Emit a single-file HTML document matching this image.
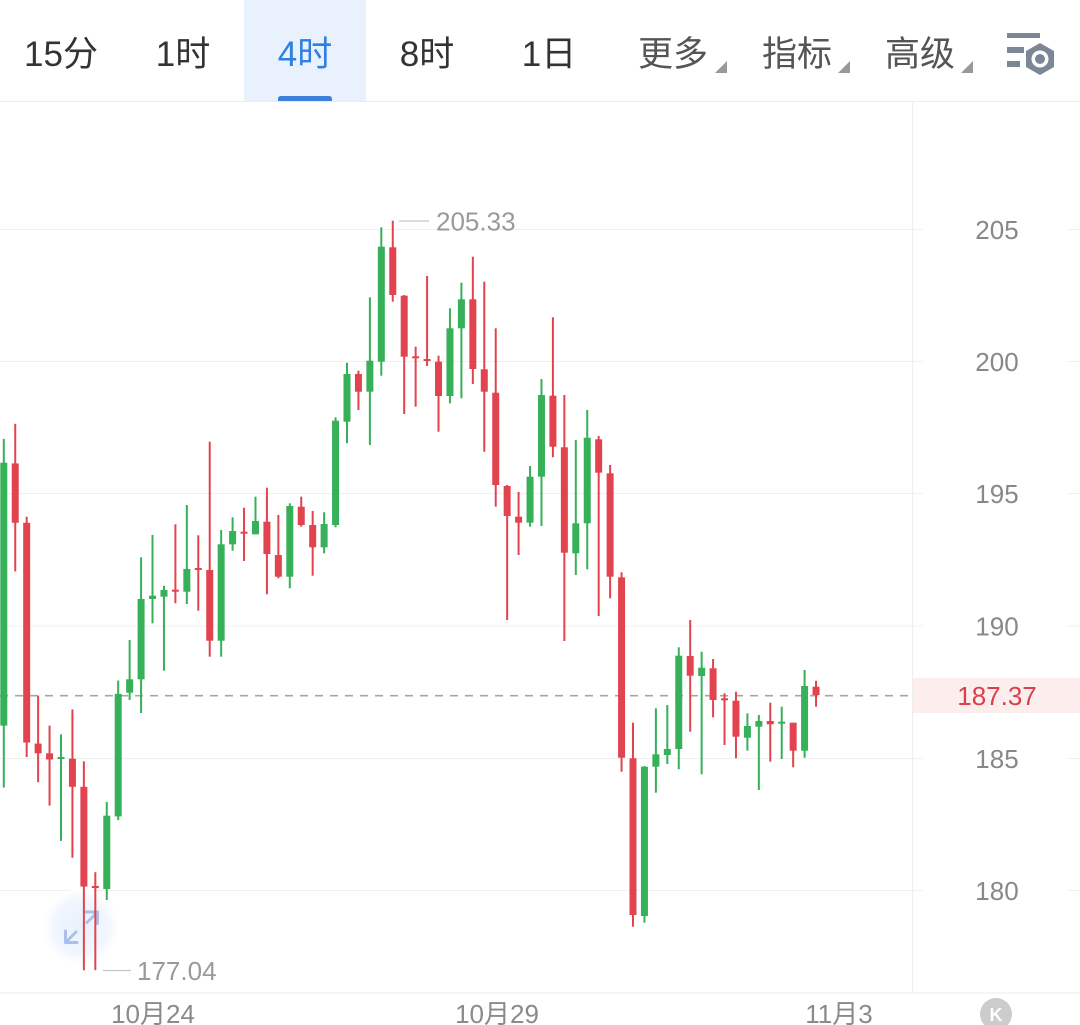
<!DOCTYPE html>
<html><head><meta charset="utf-8"><style>
html,body{margin:0;padding:0;background:#fff;width:1080px;height:1025px;overflow:hidden}
svg{display:block}
text{font-family:"Liberation Sans","Noto Sans CJK SC",sans-serif}
.g rect{fill:#37b05a}.r rect{fill:#e2444f}
</style></head><body>
<svg width="1080" height="1025" viewBox="0 0 1080 1025" xmlns="http://www.w3.org/2000/svg">
<rect width="1080" height="1025" fill="#fff"/>
<!-- header -->
<rect x="244" y="0" width="122" height="101" fill="#e8f1fc"/>
<path d="M278,101 L278,99 Q278,96 281,96 L329,96 Q332,96 332,99 L332,101 Z" fill="#3d7fdc"/>
<g font-size="35" text-anchor="middle">
<text x="61" y="66" fill="#333">15分</text>
<text x="183" y="66" fill="#333">1时</text>
<text x="305" y="66" fill="#2e7fe0">4时</text>
<text x="427" y="66" fill="#333">8时</text>
<text x="549" y="66" fill="#333">1日</text>
<text x="673" y="66" fill="#555">更多</text>
<text x="797" y="66" fill="#555">指标</text>
<text x="920" y="66" fill="#555">高级</text>
</g>
<polygon points="727,61 727,73 715,73" fill="#999"/>
<polygon points="850,61 850,73 838,73" fill="#999"/>
<polygon points="973,61 973,73 961,73" fill="#999"/>
<g fill="#7b8794">
<rect x="1007" y="33" width="33" height="5"/>
<rect x="1007" y="47" width="17" height="6"/>
<rect x="1007" y="61" width="13" height="6"/>
<polygon points="1040,43 1054,51 1054,67 1040,75 1026,67 1026,51"/>
</g>
<circle cx="1040" cy="59" r="8.5" fill="#fff"/>
<circle cx="1040" cy="59" r="5" fill="#7b8794"/>
<line x1="0" y1="101.5" x2="1080" y2="101.5" stroke="#ececec" stroke-width="1"/>
<!-- grid -->
<g stroke="#f0f0f0" stroke-width="1">
<line x1="0" y1="229.5" x2="1080" y2="229.5"/>
<line x1="0" y1="361.5" x2="1080" y2="361.5"/>
<line x1="0" y1="493.5" x2="1080" y2="493.5"/>
<line x1="0" y1="626" x2="1080" y2="626"/>
<line x1="0" y1="758.5" x2="1080" y2="758.5"/>
<line x1="0" y1="890.5" x2="1080" y2="890.5"/>
</g>
<line x1="912.5" y1="102" x2="912.5" y2="993" stroke="#eeeeee" stroke-width="1"/>
<line x1="0" y1="993" x2="1080" y2="993" stroke="#eeeeee" stroke-width="1"/>
<!-- axis label backgrounds -->
<g fill="#fff">
<rect x="923" y="212" width="145" height="36"/>
<rect x="923" y="344" width="145" height="36"/>
<rect x="923" y="476" width="145" height="36"/>
<rect x="923" y="608" width="145" height="36"/>
<rect x="923" y="741" width="145" height="36"/>
<rect x="923" y="873" width="145" height="36"/>
</g>
<g font-size="26" fill="#888" text-anchor="middle">
<text x="997" y="239">205</text>
<text x="997" y="371">200</text>
<text x="997" y="503">195</text>
<text x="997" y="635.5">190</text>
<text x="997" y="768">185</text>
<text x="997" y="900">180</text>
</g>
<!-- current price -->
<line x1="0" y1="695.7" x2="910" y2="695.7" stroke="#a6a6a6" stroke-width="1.6" stroke-dasharray="8,7"/>
<rect x="913" y="678" width="167" height="35" fill="#fdeeee"/>
<text x="997" y="705" font-size="26" fill="#d8404c" text-anchor="middle">187.37</text>
<!-- zoom icon -->
<defs><radialGradient id="zg"><stop offset="0" stop-color="#e9f1fc"/><stop offset="0.7" stop-color="#f1f6fd"/><stop offset="1" stop-color="#ffffff"/></radialGradient></defs>
<circle cx="81" cy="927" r="38" fill="url(#zg)"/>
<g stroke="#a9c1ea" stroke-width="3" fill="none" stroke-linecap="round" stroke-linejoin="round">
<polyline points="65.5,931 65.5,942.5 77,942.5"/>
<line x1="65.5" y1="942.5" x2="76" y2="932"/>
<polyline points="86,912 97.5,912 97.5,923.5"/>
<line x1="97.5" y1="912" x2="87" y2="922.5"/>
</g>
<!-- candles -->
<g transform="translate(3.8)" class="g"><rect x="-1" y="438.9" width="2" height="348.7"/><rect x="-3.5" y="462.7" width="7" height="262.9"/></g>
<g transform="translate(15.24)" class="r"><rect x="-1" y="423.8" width="2" height="147.6"/><rect x="-3.5" y="463.4" width="7" height="59.4"/></g>
<g transform="translate(26.68)" class="r"><rect x="-1" y="516.7" width="2" height="240.3"/><rect x="-3.5" y="522.8" width="7" height="219.7"/></g>
<g transform="translate(38.12)" class="r"><rect x="-1" y="695.7" width="2" height="86.5"/><rect x="-3.5" y="743.6" width="7" height="9.7"/></g>
<g transform="translate(49.56)" class="r"><rect x="-1" y="725.6" width="2" height="80"/><rect x="-3.5" y="753.3" width="7" height="6.2"/></g>
<g transform="translate(61)" class="g"><rect x="-1" y="734.3" width="2" height="106.6"/><rect x="-3.5" y="757" width="7" height="2"/></g>
<g transform="translate(72.44)" class="r"><rect x="-1" y="709.4" width="2" height="148.4"/><rect x="-3.5" y="758.7" width="7" height="28.1"/></g>
<g transform="translate(83.88)" class="r"><rect x="-1" y="761.3" width="2" height="209"/><rect x="-3.5" y="786.8" width="7" height="99.8"/></g>
<g transform="translate(95.32)" class="r"><rect x="-1" y="872.2" width="2" height="98"/><rect x="-3.5" y="886" width="7" height="2"/></g>
<g transform="translate(106.76)" class="g"><rect x="-1" y="802" width="2" height="98"/><rect x="-3.5" y="815.7" width="7" height="73.4"/></g>
<g transform="translate(118.2)" class="g"><rect x="-1" y="680.6" width="2" height="139.4"/><rect x="-3.5" y="693.9" width="7" height="122.5"/></g>
<g transform="translate(129.64)" class="g"><rect x="-1" y="640" width="2" height="60"/><rect x="-3.5" y="679.3" width="7" height="13.4"/></g>
<g transform="translate(141.08)" class="g"><rect x="-1" y="557.3" width="2" height="155.7"/><rect x="-3.5" y="599" width="7" height="80.3"/></g>
<g transform="translate(152.52)" class="g"><rect x="-1" y="535" width="2" height="88.3"/><rect x="-3.5" y="595.7" width="7" height="3.3"/></g>
<g transform="translate(163.96)" class="g"><rect x="-1" y="585.7" width="2" height="85"/><rect x="-3.5" y="590" width="7" height="6.7"/></g>
<g transform="translate(175.4)" class="r"><rect x="-1" y="524.3" width="2" height="79"/><rect x="-3.5" y="589.7" width="7" height="2"/></g>
<g transform="translate(186.84)" class="g"><rect x="-1" y="505" width="2" height="99"/><rect x="-3.5" y="569" width="7" height="22.7"/></g>
<g transform="translate(198.28)" class="r"><rect x="-1" y="535.3" width="2" height="75.4"/><rect x="-3.5" y="568" width="7" height="2"/></g>
<g transform="translate(209.72)" class="r"><rect x="-1" y="441.7" width="2" height="215"/><rect x="-3.5" y="570" width="7" height="70.7"/></g>
<g transform="translate(221.16)" class="g"><rect x="-1" y="530" width="2" height="126.7"/><rect x="-3.5" y="544.3" width="7" height="96.4"/></g>
<g transform="translate(232.6)" class="g"><rect x="-1" y="517.3" width="2" height="33.4"/><rect x="-3.5" y="531" width="7" height="13.3"/></g>
<g transform="translate(244.04)" class="r"><rect x="-1" y="507.7" width="2" height="53.3"/><rect x="-3.5" y="531.7" width="7" height="2"/></g>
<g transform="translate(255.48)" class="g"><rect x="-1" y="496.7" width="2" height="37.6"/><rect x="-3.5" y="521" width="7" height="13.3"/></g>
<g transform="translate(266.92)" class="r"><rect x="-1" y="487.7" width="2" height="106.6"/><rect x="-3.5" y="521.7" width="7" height="32.3"/></g>
<g transform="translate(278.36)" class="r"><rect x="-1" y="515" width="2" height="63.3"/><rect x="-3.5" y="555" width="7" height="21.7"/></g>
<g transform="translate(289.8)" class="g"><rect x="-1" y="503.3" width="2" height="85"/><rect x="-3.5" y="506" width="7" height="70.7"/></g>
<g transform="translate(301.24)" class="r"><rect x="-1" y="496.7" width="2" height="30"/><rect x="-3.5" y="506.7" width="7" height="18.3"/></g>
<g transform="translate(312.68)" class="r"><rect x="-1" y="511" width="2" height="64.7"/><rect x="-3.5" y="525" width="7" height="22.3"/></g>
<g transform="translate(324.12)" class="g"><rect x="-1" y="512.3" width="2" height="41"/><rect x="-3.5" y="524" width="7" height="23.3"/></g>
<g transform="translate(335.56)" class="g"><rect x="-1" y="417.3" width="2" height="110"/><rect x="-3.5" y="420.7" width="7" height="104.3"/></g>
<g transform="translate(347)" class="g"><rect x="-1" y="362.7" width="2" height="80.6"/><rect x="-3.5" y="374" width="7" height="47.7"/></g>
<g transform="translate(358.44)" class="r"><rect x="-1" y="370.7" width="2" height="39.3"/><rect x="-3.5" y="374" width="7" height="17.7"/></g>
<g transform="translate(369.88)" class="g"><rect x="-1" y="297.3" width="2" height="147.7"/><rect x="-3.5" y="360.7" width="7" height="31"/></g>
<g transform="translate(381.32)" class="g"><rect x="-1" y="227.3" width="2" height="148.4"/><rect x="-3.5" y="246.7" width="7" height="115"/></g>
<g transform="translate(392.76)" class="r"><rect x="-1" y="220.7" width="2" height="81"/><rect x="-3.5" y="247.3" width="7" height="47.7"/></g>
<g transform="translate(404.2)" class="r"><rect x="-1" y="295" width="2" height="119"/><rect x="-3.5" y="295.7" width="7" height="61"/></g>
<g transform="translate(415.64)" class="r"><rect x="-1" y="346.7" width="2" height="60"/><rect x="-3.5" y="356.3" width="7" height="2"/></g>
<g transform="translate(427.08)" class="r"><rect x="-1" y="276" width="2" height="90"/><rect x="-3.5" y="359" width="7" height="2"/></g>
<g transform="translate(438.52)" class="r"><rect x="-1" y="355.7" width="2" height="76"/><rect x="-3.5" y="361.7" width="7" height="34.3"/></g>
<g transform="translate(449.96)" class="g"><rect x="-1" y="308.3" width="2" height="95"/><rect x="-3.5" y="328.3" width="7" height="67.7"/></g>
<g transform="translate(461.4)" class="g"><rect x="-1" y="282.7" width="2" height="115.6"/><rect x="-3.5" y="299.3" width="7" height="29"/></g>
<g transform="translate(472.84)" class="r"><rect x="-1" y="256.7" width="2" height="127.3"/><rect x="-3.5" y="299.3" width="7" height="69.7"/></g>
<g transform="translate(484.28)" class="r"><rect x="-1" y="281.7" width="2" height="170"/><rect x="-3.5" y="369.3" width="7" height="22.4"/></g>
<g transform="translate(495.72)" class="r"><rect x="-1" y="328.3" width="2" height="178.4"/><rect x="-3.5" y="392.7" width="7" height="92.3"/></g>
<g transform="translate(507.16)" class="r"><rect x="-1" y="485" width="2" height="135"/><rect x="-3.5" y="486" width="7" height="30"/></g>
<g transform="translate(518.6)" class="r"><rect x="-1" y="492" width="2" height="63"/><rect x="-3.5" y="516.7" width="7" height="6"/></g>
<g transform="translate(530.04)" class="g"><rect x="-1" y="466" width="2" height="60.7"/><rect x="-3.5" y="476.7" width="7" height="46"/></g>
<g transform="translate(541.48)" class="g"><rect x="-1" y="379" width="2" height="147"/><rect x="-3.5" y="395" width="7" height="81.7"/></g>
<g transform="translate(552.92)" class="r"><rect x="-1" y="317.3" width="2" height="140"/><rect x="-3.5" y="395.7" width="7" height="51"/></g>
<g transform="translate(564.36)" class="r"><rect x="-1" y="395" width="2" height="246"/><rect x="-3.5" y="447.3" width="7" height="105.4"/></g>
<g transform="translate(575.8)" class="g"><rect x="-1" y="440" width="2" height="135"/><rect x="-3.5" y="523.3" width="7" height="30"/></g>
<g transform="translate(587.24)" class="g"><rect x="-1" y="410" width="2" height="159.3"/><rect x="-3.5" y="437.7" width="7" height="85.6"/></g>
<g transform="translate(598.68)" class="r"><rect x="-1" y="436" width="2" height="180"/><rect x="-3.5" y="439.3" width="7" height="33.4"/></g>
<g transform="translate(610.12)" class="r"><rect x="-1" y="465" width="2" height="133.3"/><rect x="-3.5" y="473.3" width="7" height="103.4"/></g>
<g transform="translate(621.56)" class="r"><rect x="-1" y="572.3" width="2" height="199.4"/><rect x="-3.5" y="577.3" width="7" height="180.4"/></g>
<g transform="translate(633)" class="r"><rect x="-1" y="722.7" width="2" height="204"/><rect x="-3.5" y="758.3" width="7" height="156.7"/></g>
<g transform="translate(644.44)" class="g"><rect x="-1" y="766" width="2" height="156.7"/><rect x="-3.5" y="766.7" width="7" height="149.3"/></g>
<g transform="translate(655.88)" class="g"><rect x="-1" y="708.3" width="2" height="84.4"/><rect x="-3.5" y="754.3" width="7" height="12.4"/></g>
<g transform="translate(667.32)" class="g"><rect x="-1" y="705" width="2" height="59"/><rect x="-3.5" y="749" width="7" height="6"/></g>
<g transform="translate(678.76)" class="g"><rect x="-1" y="647.3" width="2" height="122"/><rect x="-3.5" y="655.7" width="7" height="93.3"/></g>
<g transform="translate(690.2)" class="r"><rect x="-1" y="620" width="2" height="111.7"/><rect x="-3.5" y="656" width="7" height="19.7"/></g>
<g transform="translate(701.64)" class="g"><rect x="-1" y="651.7" width="2" height="122.6"/><rect x="-3.5" y="667.7" width="7" height="8.3"/></g>
<g transform="translate(713.08)" class="r"><rect x="-1" y="659" width="2" height="58.3"/><rect x="-3.5" y="668.3" width="7" height="31.7"/></g>
<g transform="translate(724.52)" class="r"><rect x="-1" y="693.3" width="2" height="51.7"/><rect x="-3.5" y="698.3" width="7" height="2"/></g>
<g transform="translate(735.96)" class="r"><rect x="-1" y="691.7" width="2" height="66.6"/><rect x="-3.5" y="700.7" width="7" height="36"/></g>
<g transform="translate(747.4)" class="g"><rect x="-1" y="713.3" width="2" height="37.4"/><rect x="-3.5" y="726" width="7" height="11.7"/></g>
<g transform="translate(758.84)" class="g"><rect x="-1" y="715" width="2" height="75"/><rect x="-3.5" y="721" width="7" height="5.7"/></g>
<g transform="translate(770.28)" class="r"><rect x="-1" y="702.7" width="2" height="59"/><rect x="-3.5" y="721" width="7" height="3.3"/></g>
<g transform="translate(781.72)" class="g"><rect x="-1" y="706.7" width="2" height="52.3"/><rect x="-3.5" y="721.7" width="7" height="2"/></g>
<g transform="translate(793.16)" class="r"><rect x="-1" y="722.7" width="2" height="44.6"/><rect x="-3.5" y="722.7" width="7" height="28"/></g>
<g transform="translate(804.6)" class="g"><rect x="-1" y="670" width="2" height="87.7"/><rect x="-3.5" y="686" width="7" height="64.7"/></g>
<g transform="translate(816.04)" class="r"><rect x="-1" y="680.7" width="2" height="26"/><rect x="-3.5" y="686.7" width="7" height="8.3"/></g>
<!-- high / low labels -->
<line x1="399" y1="221" x2="429" y2="221" stroke="#c6c6c6" stroke-width="1.2"/>
<text x="436" y="230.5" font-size="26" fill="#9a9a9a">205.33</text>
<line x1="103" y1="970.5" x2="131" y2="970.5" stroke="#c6c6c6" stroke-width="1.2"/>
<text x="137" y="980" font-size="26" fill="#9a9a9a">177.04</text>
<!-- date labels -->
<g font-size="26" fill="#8a8a8a" text-anchor="middle">
<text x="153" y="1023">10月24</text>
<text x="497" y="1023">10月29</text>
<text x="839" y="1023">11月3</text>
</g>
<circle cx="996" cy="1014" r="16" fill="#cccccc"/>
<text x="996" y="1021" font-size="18" fill="#fff" text-anchor="middle" font-weight="bold">K</text>
</svg>
</body></html>
